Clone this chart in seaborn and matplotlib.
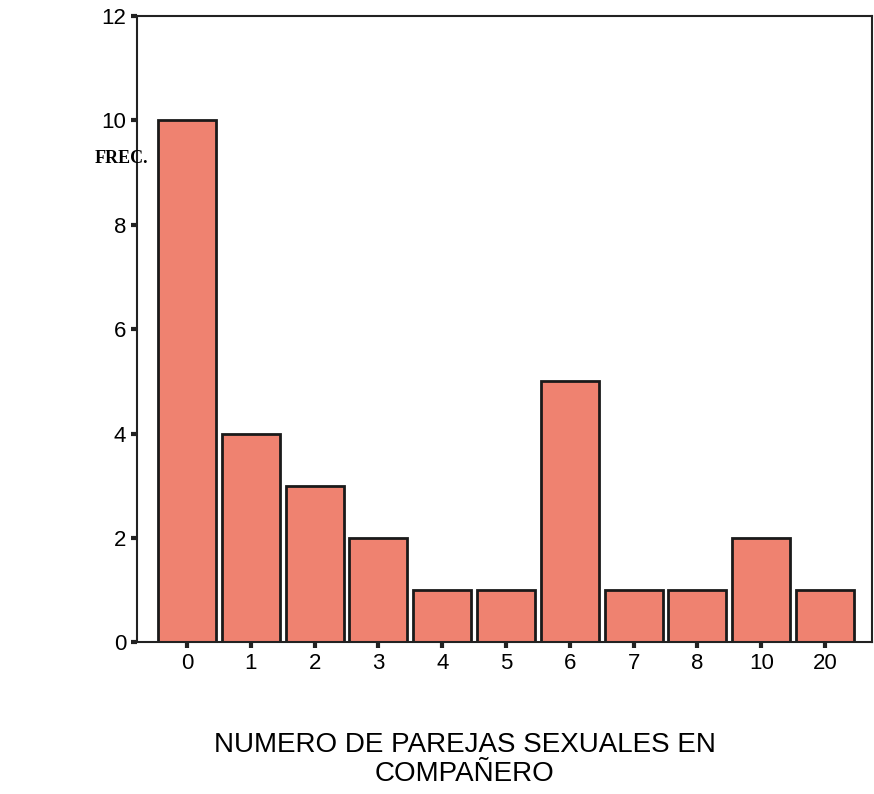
import pandas as pd
import seaborn as sns
import matplotlib.pyplot as plt

# Datos
categorias = ['0', '1', '2', '3', '4', '5', '6', '7', '8', '10', '20']
frecuencias = [10, 4, 3, 2, 1, 1, 5, 1, 1, 2, 1]

df = pd.DataFrame({'parejas': categorias, 'frec': frecuencias})

sns.set_style('white')
plt.rcParams['font.family'] = ['Liberation Sans', 'DejaVu Sans']

fig = plt.figure(figsize=(8.74, 7.94), dpi=100)
ax = fig.add_axes([0.157, 0.191, 0.841, 0.789])

sns.barplot(data=df, x='parejas', y='frec', order=categorias, color='#EF8270',
            saturation=1, width=0.91, edgecolor='#1a1a1a', linewidth=2, ax=ax)

ax.set_xlim(-0.78, 10.74)
ax.set_ylim(0, 12)
ax.set_yticks([0, 2, 4, 6, 8, 10, 12])
for s in ax.spines.values():
    s.set_visible(True)
    s.set_color('#222222')
    s.set_linewidth(1.5)
ax.tick_params(axis='both', bottom=True, left=True, direction='out', length=4,
               width=3, color='#222222', labelcolor='black', labelsize=16, pad=4)
ax.set_xlabel('')
ax.set_ylabel('')
fig.text(0.532, 0.043, 'NUMERO DE PAREJAS SEXUALES EN\nCOMPAÑERO', fontsize=20,
         ha='center', va='center', linespacing=1.15, color='black')
fig.text(0.17, 0.80, 'FREC.', fontsize=13, fontweight='bold', color='black',
         family='Liberation Serif', ha='right', va='center')

plt.savefig('out.png', dpi=100)
